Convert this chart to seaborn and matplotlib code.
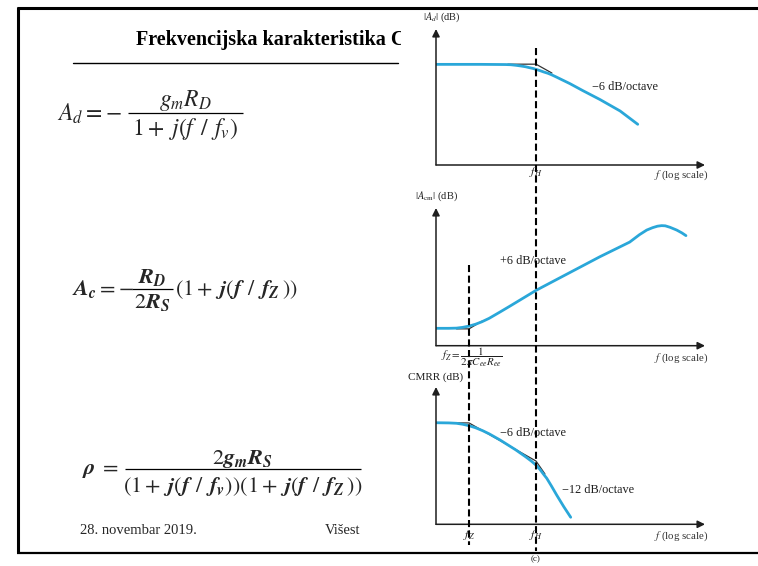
import numpy as np
import pandas as pd
import seaborn as sns
import matplotlib
matplotlib.use("Agg")
import matplotlib.pyplot as plt

sns.set_theme(style="white")
plt.rcParams["font.family"] = ["Liberation Serif", "DejaVu Serif"]
plt.rcParams["mathtext.fontset"] = "stix"

# ---- characteristic frequencies (Hz) ----
F_Z = 100.0
F_H = 1000.0

# ---- |A_d| (dB) vs f ----
freq_ad = [32, 150, 350, 420, 500, 600, 700, 800, 900, 1000, 1150, 1300, 1500,
           1700, 2000, 2400, 3200, 5000, 9000, 18000, 33000]
gain_ad = [54.4, 54.4, 54.3, 54.2, 53.9, 53.5, 53.1, 52.6, 52.2, 51.7, 51.0, 50.3,
           49.6, 48.8, 47.6, 46.2, 44.0, 40.2, 35.4, 29.2, 22.0]
asym_ad_f = [380, 1000, 1730]
asym_ad_db = [54.5, 54.5, 49.7]

# ---- |A_cm| (dB) vs f ----
freq_acm = [32, 50, 65, 80, 100, 125, 155, 200, 290, 400, 1000, 9000, 25000,
            35000, 44900, 55000, 65000, 75000, 85000, 100000, 126000, 150000, 173000]
gain_acm = [9.4, 9.4, 9.5, 9.9, 10.6, 11.6, 12.9, 14.8, 18.2, 21.2, 29.9, 48.1, 56.0,
            60.0, 62.5, 63.8, 64.6, 64.9, 64.8, 64.0, 62.5, 61.0, 59.5]
asym_acm_f = [65, 100, 155]
asym_acm_db = [9.1, 9.1, 13.2]

# ---- CMRR (dB) vs f ----
freq_cmrr = [32, 50, 65, 80, 100, 125, 160, 200, 290, 500, 700, 850, 1000, 1150,
             1300, 1445, 1700, 2036, 2600, 3296]
gain_cmrr = [54.9, 54.8, 54.6, 54.1, 53.3, 52.2, 50.6, 48.9, 45.6, 40.2, 36.5, 34.2,
             32.0, 29.6, 27.0, 24.9, 20.7, 15.8, 9.5, 3.8]
asym_cmrr_f = [52, 100, 1000, 1360]
asym_cmrr_db = [54.8, 54.8, 34.2, 27.2]

# ---- slide texts ----
TITLE = "Frekvencijska karakteristika C"
FOOTER_DATE = "28. novembar 2019."
FOOTER_COURSE = "Višest"
PAGE = "60"

CYAN = "#2aa7d9"
INK = "#1e1e1e"
W, H = 758, 566

fig = plt.figure(figsize=(W / 100, H / 100), dpi=100)
fig.patch.set_facecolor("white")

# background layer in pixel units (y grows downward)
bg = fig.add_axes([0, 0, 1, 1])
bg.set_xlim(0, W)
bg.set_ylim(H, 0)
bg.axis("off")


def rect(l, t, r, b):
    return [l / W, 1 - b / H, (r - l) / W, (b - t) / H]


def fraction(x0, x1, y_bar, num, den, size, num_base, den_base):
    """Stacked fraction: numerator, bar and denominator centred on the bar."""
    xc = 0.5 * (x0 + x1)
    bg.plot([x0, x1], [y_bar, y_bar], color="black", lw=0.9,
            solid_capstyle="butt")
    bg.text(xc, num_base, num, fontsize=size, ha="center", va="baseline")
    bg.text(xc, den_base, den, fontsize=size, ha="center", va="baseline")


# slide title
bg.text(136, 40, TITLE, fontsize=14.5, fontweight="bold", ha="left",
        va="center", color="black")
bg.plot([73, 398], [62.5, 62.5], color="black", lw=1.0)

# A_d
bg.text(57, 121, r"$A_d = -$", fontsize=17, ha="left", va="baseline")
fraction(128, 243, 113, r"$g_m R_D$", r"$1+\;j(f\;\,/\;\,f_v)$", 17, 106, 135)

# A_c
bg.text(72, 295, r"$\mathbfit{A_c} = -$", fontsize=16, ha="left",
        va="baseline")
fraction(132, 173, 289, r"$\mathbfit{R_D}$", r"$2\mathbfit{R_S}$", 16, 283, 308)
bg.text(175, 295, r"$(1+\;\mathbfit{j}(\mathbfit{f}\;\,/\;\,\mathbfit{f_Z}\,))$",
        fontsize=16, ha="left", va="baseline")

# rho
bg.text(82, 474, r"$\mathbfit{\rho}\;=$", fontsize=16, ha="left", va="baseline")
fraction(125, 361, 469, r"$2\mathbfit{g_m R_S}$",
         r"$(1+\;\mathbfit{j}(\mathbfit{f}\;\,/\;\,\mathbfit{f_v}))"
         r"(1+\;\mathbfit{j}(\mathbfit{f}\;\,/\;\,\mathbfit{f_Z}\,))$",
         16, 464, 492)

bg.text(80, 530, FOOTER_DATE, fontsize=10.5, ha="left", va="center")
bg.text(325, 530, FOOTER_COURSE, fontsize=10.5, ha="left", va="center")
bg.text(751, 541, PAGE, fontsize=8.5, ha="center", va="center",
        family=["Liberation Sans", "DejaVu Sans"], color="#222222")

# white area of the figure block
bg.add_patch(plt.Rectangle((401, 9), W - 401, 542, facecolor="white",
                           edgecolor="none", zorder=5))

# ---- the three Bode panels ----
decade_px = 67.0
x_left_f = 10 ** (3 - (536 - 436) / decade_px)
x_right_f = 10 ** (3 + (705 - 536) / decade_px)
db_px = 1.85

panel_specs = [
    (29, 165, freq_ad, gain_ad, asym_ad_f, asym_ad_db),
    (208, 345.7, freq_acm, gain_acm, asym_acm_f, asym_acm_db),
    (387, 524.3, freq_cmrr, gain_cmrr, asym_cmrr_f, asym_cmrr_db),
]
axes = []
for top, bottom, fx, gy, afx, agy in panel_specs:
    ax = fig.add_axes(rect(436, top, 705, bottom))
    ax.set_facecolor("none")
    ax.set_xscale("log")
    curve = pd.DataFrame({"f": fx, "dB": gy})
    asym = pd.DataFrame({"f": afx, "dB": agy})
    sns.lineplot(data=asym, x="f", y="dB", ax=ax, color="#333333", lw=0.9,
                 estimator=None, sort=False, zorder=2)
    sns.lineplot(data=curve, x="f", y="dB", ax=ax, color=CYAN, lw=2.0,
                 estimator=None, sort=False, zorder=3)
    ax.set_xlim(x_left_f, x_right_f)
    ax.set_ylim(0, (bottom - top) / db_px)
    for s in ax.spines.values():
        s.set_visible(False)
    ax.set_xticks([])
    ax.set_yticks([])
    ax.minorticks_off()
    ax.set_xlabel("")
    ax.set_ylabel("")
    arrow = dict(arrowstyle="-|>", color=INK, lw=1.1, mutation_scale=11,
                 shrinkA=0, shrinkB=0)
    ax.annotate("", xy=(1, 0), xytext=(0, 0), xycoords="axes fraction",
                arrowprops=arrow, annotation_clip=False)
    ax.annotate("", xy=(0, 1), xytext=(0, 0), xycoords="axes fraction",
                arrowprops=arrow, annotation_clip=False)
    axes.append(ax)

ax1, ax2, ax3 = axes
lab = dict(color=INK, ha="center", va="center")

# axis titles
bg.text(442, 17, r"$|A_d|$ (dB)", fontsize=7.5, zorder=6, **lab)
bg.text(436, 196, r"$|A_{\rm cm}|$ (dB)", fontsize=7.5, zorder=6, **lab)
bg.text(436, 377, "CMRR (dB)", fontsize=8, zorder=6, **lab)

# frequency-axis labels
for y in (175, 358, 536):
    bg.text(708, y, r"$f$ (log scale)", fontsize=7.8, color="#333333",
            ha="right", va="center", zorder=6)

# slope annotations
bg.text(592, 87, "\u22126 dB/octave", fontsize=8.8, ha="left", va="center",
        color=INK, zorder=6)
bg.text(500, 261, "+6 dB/octave", fontsize=8.8, ha="left", va="center",
        color=INK, zorder=6)
bg.text(500, 433, "\u22126 dB/octave", fontsize=8.8, ha="left", va="center",
        color=INK, zorder=6)
bg.text(562, 490, "\u221212 dB/octave", fontsize=8.8, ha="left", va="center",
        color=INK, zorder=6)

# corner-frequency markers
fg = fig.add_axes([0, 0, 1, 1])
fg.set_zorder(10)
fg.set_xlim(0, W)
fg.set_ylim(H, 0)
fg.axis("off")
fg.patch.set_alpha(0)


def fx_px(ax, f):
    disp = ax.transData.transform((f, 1.0))
    return fg.transData.inverted().transform(disp)[0]


xh = fx_px(ax1, F_H)
xz = fx_px(ax3, F_Z)
dash = dict(color="black", lw=1.5, linestyle=(0, (3.4, 1.7)))
fg.plot([xh, xh], [48, 551], **dash)
fg.plot([xz, xz], [265, 545], **dash)

fg.text(xh, 172, r"$f_H$", fontsize=8.5, **lab)
fg.text(xz - 28, 357, r"$f_Z = \dfrac{1}{2\pi C_{ee} R_{ee}}$", fontsize=7.8,
        color=INK, ha="left", va="center")
fg.text(xz, 535, r"$f_Z$", fontsize=8.5, **lab)
fg.text(xh, 535, r"$f_H$", fontsize=8.5, **lab)
fg.text(xh, 559, "(c)", fontsize=6.5, **lab)

# slide frame
fg.plot([17.5, 17.5], [7, 553], color="black", lw=2.2, solid_capstyle="butt")
fg.plot([17, W], [7.8, 7.8], color="black", lw=2.2, solid_capstyle="butt")
fg.plot([17, W], [552.5, 552.5], color="black", lw=1.6, solid_capstyle="butt")

fig.savefig("out.png", dpi=100, facecolor="white")
